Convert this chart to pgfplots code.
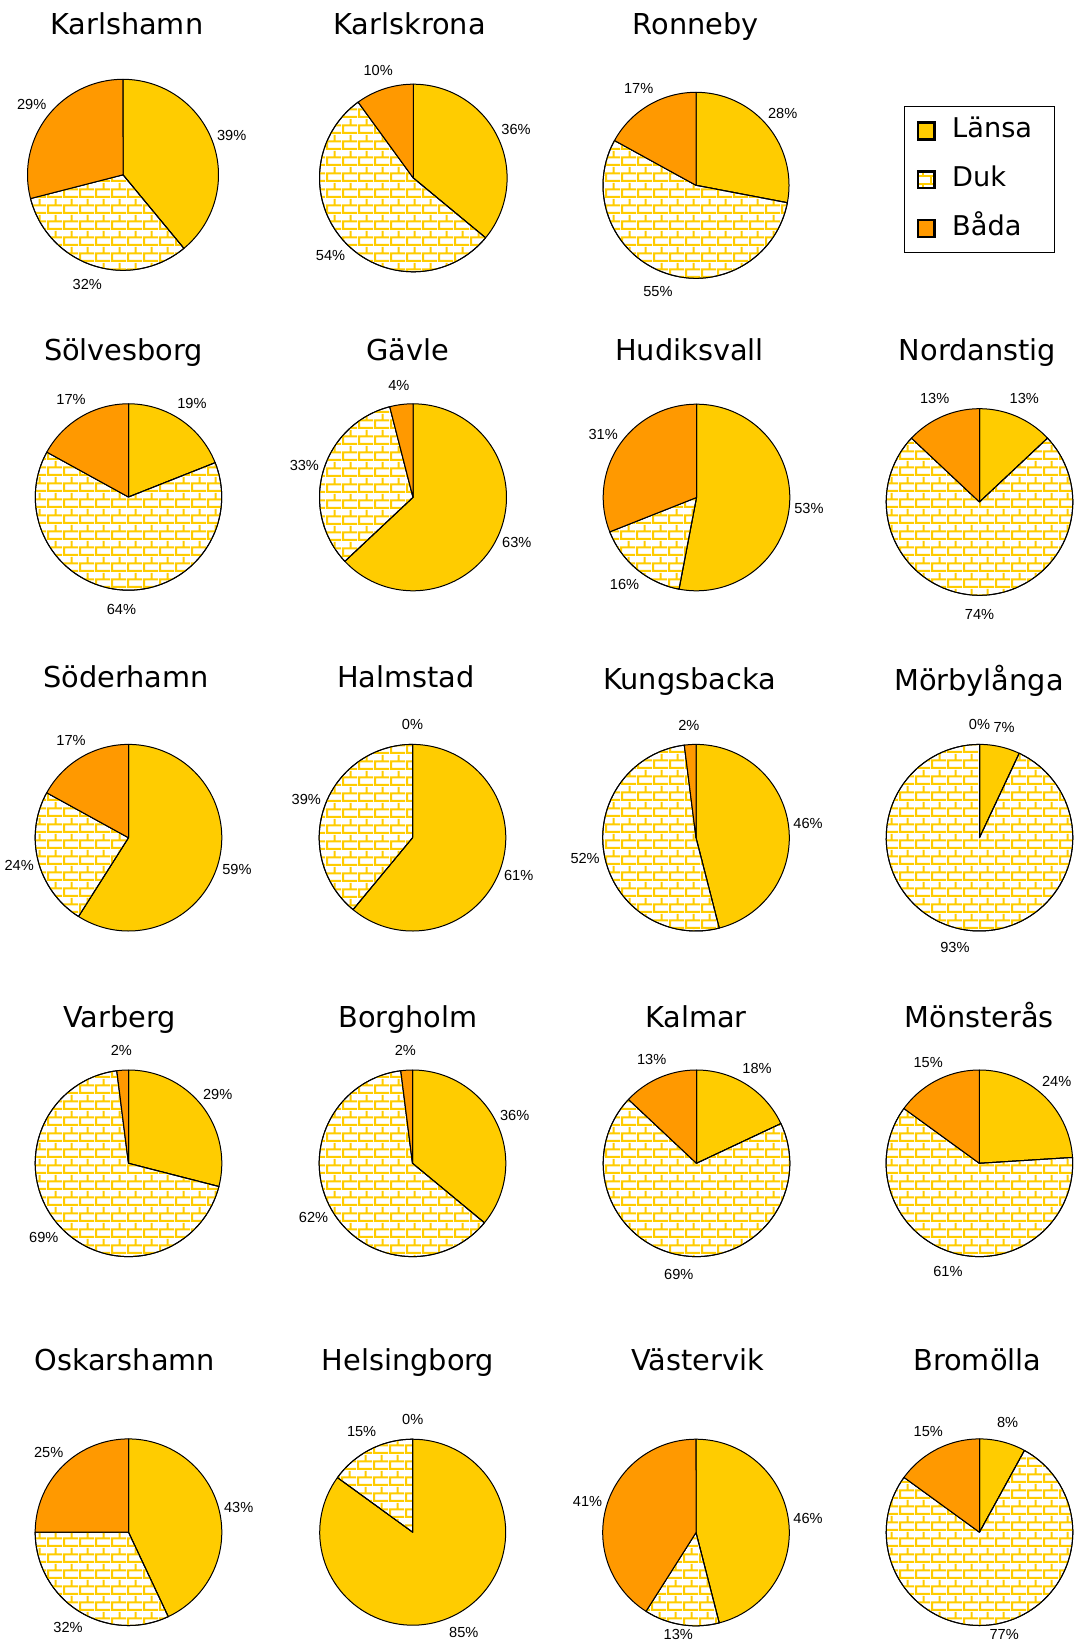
\documentclass[border=0pt]{standalone}
\usepackage{fontspec}
\setmainfont{DejaVu Sans}
\newfontfamily\pctfont{Liberation Sans}
\usepackage{pgfplots}
\usepackage{pgfplotstable}
\pgfplotsset{compat=1.18}
\usetikzlibrary{patterns}

\definecolor{lansa}{HTML}{FFCC00}
\definecolor{bada}{HTML}{FF9900}
\definecolor{dukline}{HTML}{FFCC00}

% brick hatching used for the "Duk" share
\pgfdeclarepatternformonly{duk bricks}{\pgfqpoint{0pt}{0pt}}{\pgfqpoint{7.75pt}{7.75pt}}{\pgfqpoint{7.75pt}{7.75pt}}{%
  \pgfsetlinewidth{1.1pt}%
  \pgfpathmoveto{\pgfqpoint{0pt}{0.55pt}}\pgfpathlineto{\pgfqpoint{7.75pt}{0.55pt}}%
  \pgfpathmoveto{\pgfqpoint{0pt}{4.425pt}}\pgfpathlineto{\pgfqpoint{7.75pt}{4.425pt}}%
  \pgfpathmoveto{\pgfqpoint{0.55pt}{0.55pt}}\pgfpathlineto{\pgfqpoint{0.55pt}{4.425pt}}%
  \pgfpathmoveto{\pgfqpoint{4.425pt}{4.425pt}}\pgfpathlineto{\pgfqpoint{4.425pt}{7.75pt}}%
  \pgfusepath{stroke}%
}

\tikzset{
  lansa fill/.style={fill=lansa},
  duk fill/.style={preaction={fill=white}, pattern=duk bricks, pattern color=dukline},
  bada fill/.style={fill=bada},
  slice/.style={draw=black, line width=0.5pt, line join=round},
}

\pgfplotsset{
  pie axis/.style={hide axis, scale only axis, clip=false, anchor=center,
    xmin=-1, xmax=1, ymin=-1, ymax=1},
  sq legend/.style={legend image code/.code={%
      \draw[##1, line width=1.2pt] (0.6pt,-4.2pt) rectangle (9pt,4.2pt);}},
}

% one slice, angles in degrees clockwise from 12 o'clock
\newcommand\pieslice[3]{%
  \addplot[slice, #3, domain=#1:#2, samples=100] ({sin(x)},{cos(x)}) -- (axis cs:0,0) -- cycle;}

\newcommand\titlefont{\fontsize{14.4}{17}\selectfont}
\newcommand\pctsize{\pctfont\fontsize{7.3}{8.5}\selectfont}

% name, pie centre (cx,cy) and radius r, title position (tx,ty baseline), shares in percent
\pgfplotstableread{
name        cx     cy     r     tx     ty     lansa duk bada
Karlshamn   123    174.8  95.5  126.7  35     39    32  29
Karlskrona  413.3  178    93.8  409.6  35     36    54  10
Ronneby     696    185.3  93    695.7  35     28    55  17
Sölvesborg  128.5  497    93.2  123.6  360    19    64  17
Gävle       413    497.3  93.5  407.6  360    63    33  4
Hudiksvall  696.5  497.5  93.3  689.4  360    53    16  31
Nordanstig  979.5  502    93.3  977.5  360    13    74  13
Söderhamn   128.5  837.7  93.3  126    687.3  59    24  17
Halmstad    412.5  837.7  93.3  406    687.3  61    39  0
Kungsbacka  696    837.7  93.3  689.5  689.3  46    52  2
Mörbylånga  979.5  837.7  93.3  979    690    7     93  0
Varberg     128.5  1163.3 93.3  119.6  1027.3 29    69  2
Borgholm    412.5  1163.3 93.3  407.8  1027.3 36    62  2
Kalmar      696.5  1163.3 93.3  696    1027.3 18    69  13
Mönsterås   979.4  1163.3 93.3  979.3  1027.3 24    61  15
Oskarshamn  128.5  1532.2 93.3  124.7  1370.7 43    32  25
Helsingborg 412.7  1532.2 93    408    1370.7 85    15  0
Västervik   696    1532.5 93.3  697.4  1370.7 46    13  41
Bromölla    979.5  1532.2 93.3  977.3  1370.7 8     77  15
}\piedata

\begin{document}
\begin{tikzpicture}
\fill[white] (0pt,0pt) rectangle (538.5pt,-821pt);
\useasboundingbox (0pt,0pt) rectangle (538.5pt,-821pt);

\pgfplotstablegetrowsof{\piedata}
\pgfmathtruncatemacro\lastrow{\pgfplotsretval-1}
\foreach \i in {0,...,\lastrow}{
  \pgfplotstablegetelem{\i}{name}\of\piedata \let\pname\pgfplotsretval
  \pgfplotstablegetelem{\i}{cx}\of\piedata \let\cx\pgfplotsretval
  \pgfplotstablegetelem{\i}{cy}\of\piedata \let\cy\pgfplotsretval
  \pgfplotstablegetelem{\i}{r}\of\piedata \let\rr\pgfplotsretval
  \pgfplotstablegetelem{\i}{tx}\of\piedata \let\tx\pgfplotsretval
  \pgfplotstablegetelem{\i}{ty}\of\piedata \let\ty\pgfplotsretval
  \pgfplotstablegetelem{\i}{lansa}\of\piedata \let\va\pgfplotsretval
  \pgfplotstablegetelem{\i}{duk}\of\piedata \let\vb\pgfplotsretval
  \pgfplotstablegetelem{\i}{bada}\of\piedata \let\vc\pgfplotsretval
  % slice boundaries and label angles
  \pgfmathsetmacro\aA{0}
  \pgfmathsetmacro\aB{3.6*\va}
  \pgfmathsetmacro\aC{3.6*(\va+\vb)}
  \pgfmathsetmacro\aD{3.6*(\va+\vb+\vc)}
  \pgfmathsetmacro\mA{(\aA+\aB)/2}
  \pgfmathsetmacro\mB{(\aB+\aC)/2}
  \pgfmathsetmacro\mC{(\aC+\aD)/2}
  % lowest label position that still fits on the page (axis units)
  \pgfmathsetmacro\ylow{(\cy-1634)/\rr}
  \node[font=\titlefont, anchor=base] at ({\tx*0.5pt},{-\ty*0.5pt}) {\pname};
  \begin{axis}[pie axis, at={({\cx*0.5pt},{-\cy*0.5pt})},
      width=\rr pt, height=\rr pt]
    \ifnum\va>0\relax \pieslice{\aA}{\aB}{lansa fill}\fi
    \ifnum\vb>0\relax \pieslice{\aB}{\aC}{duk fill}\fi
    \ifnum\vc>0\relax \pieslice{\aC}{\aD}{bada fill}\fi
    \node[font=\pctsize] at (axis cs:{1.21*sin(\mA)},{max(1.21*cos(\mA),\ylow)}) {\va\%};
    \node[font=\pctsize] at (axis cs:{1.21*sin(\mB)},{max(1.21*cos(\mB),\ylow)}) {\vb\%};
    \node[font=\pctsize] at (axis cs:{1.21*sin(\mC)},{max(1.21*cos(\mC),\ylow)}) {\vc\%};
  \end{axis}
}

% shared legend
\begin{axis}[hide axis, scale only axis, width=10pt, height=10pt,
    xmin=0, xmax=1, ymin=0, ymax=1,
    at={(452.15pt,-53.15pt)}, anchor=north west,
    legend cell align=left,
    legend style={at={(0,1)}, anchor=north west, draw=black, line width=0.5pt,
      fill=white, inner xsep=5.9pt, inner ysep=5.6pt, row sep=11.4pt,
      column sep=8.2pt, font=\fontsize{13.6}{16}\selectfont,
      nodes={inner sep=0pt, text height=10pt, text depth=3pt}}]
  \addlegendimage{sq legend, lansa fill}
  \addlegendentry{\makebox[45.4pt][l]{Länsa}}
  \addlegendimage{sq legend, duk fill}
  \addlegendentry{\makebox[45.4pt][l]{Duk}}
  \addlegendimage{sq legend, bada fill}
  \addlegendentry{\makebox[45.4pt][l]{Båda}}
\end{axis}
\end{tikzpicture}
\end{document}
